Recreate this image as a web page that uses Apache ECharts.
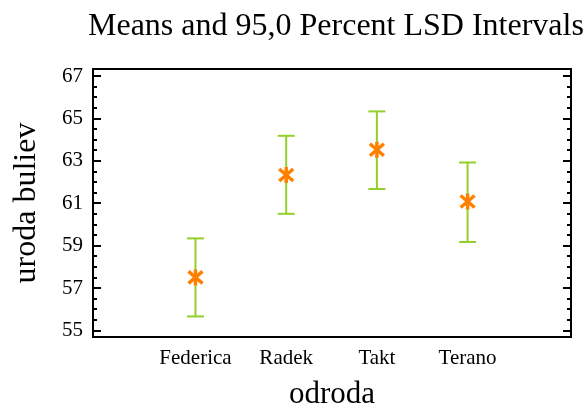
<!DOCTYPE html>
<html>
<head>
<meta charset="utf-8">
<script src="https://cdn.jsdelivr.net/npm/echarts@6/dist/echarts.min.js"></script>
<style>html,body{margin:0;padding:0;background:#fff}#c{width:586px;height:408px}</style>
</head>
<body>
<div id="c"></div>
<script>
const categories = ['Federica', 'Radek', 'Takt', 'Terano'];
const means = [57.5, 62.33, 63.52, 61.08];
const lower = [55.66, 60.5, 61.67, 59.17];
const upper = [59.34, 64.18, 65.33, 62.92];
const yMajorTicks = [55, 57, 59, 61, 63, 65, 67];
const yMinorTicks = [55.5, 56, 56.5, 57.5, 58, 58.5, 59.5, 60, 60.5, 61.5, 62, 62.5, 63.5, 64, 64.5, 65.5, 66, 66.5];
const titleText = 'Means and 95,0 Percent LSD Intervals';
const xName = 'odroda';
const yName = 'uroda buliev';

const FONT = '"Liberation Serif", "Times New Roman", serif';
const Y_MIN = 54.69, Y_MAX = 67.33;

function yAxisDef(pos, values, len, showLabel) {
  return {
    type: 'value', position: pos, min: Y_MIN, max: Y_MAX,
    axisLine: { show: false, onZero: false },
    splitLine: { show: false },
    axisTick: { show: true, inside: true, length: len, customValues: values, lineStyle: { color: '#000', width: 2 } },
    axisLabel: { show: showLabel, customValues: values, color: '#000', fontFamily: FONT, fontSize: 21, margin: 10 },
    name: showLabel ? yName : '',
    nameLocation: 'middle', nameGap: 50,
    nameTextStyle: { color: '#000', fontFamily: FONT, fontSize: 32 }
  };
}

const chart = echarts.init(document.getElementById('c'), null, { renderer: 'canvas' });
chart.setOption({
  animation: false,
  backgroundColor: '#fff',
  title: {
    text: titleText, left: 83, top: 6,
    textStyle: { color: '#000', fontFamily: FONT, fontSize: 32, fontWeight: 'normal' }
  },
  grid: { left: 93, right: 15, top: 69, bottom: 71, show: true, borderColor: '#000', borderWidth: 2,
          backgroundColor: 'transparent', outerBoundsMode: 'none', containLabel: false },
  xAxis: {
    type: 'value', min: -1.13, max: 4.14,
    axisLine: { show: false, onZero: false }, splitLine: { show: false }, axisTick: { show: false },
    axisLabel: {
      customValues: categories.map((c, i) => i),
      formatter: v => categories[Math.round(v)] || '',
      color: '#000', fontFamily: FONT, fontSize: 21, margin: 11
    },
    name: xName, nameLocation: 'middle', nameGap: 42,
    nameTextStyle: { color: '#000', fontFamily: FONT, fontSize: 31 }
  },
  yAxis: [
    yAxisDef('left', yMajorTicks, 8, true),
    yAxisDef('left', yMinorTicks, 4, false),
    yAxisDef('right', yMajorTicks, 8, false),
    yAxisDef('right', yMinorTicks, 4, false)
  ],
  series: [{
    type: 'custom',
    data: categories.map((c, i) => [i, means[i], lower[i], upper[i]]),
    renderItem: function (params, api) {
      const x = api.value(0);
      const pm = api.coord([x, api.value(1)]);
      const pl = api.coord([x, api.value(2)]);
      const pu = api.coord([x, api.value(3)]);
      const green = { stroke: '#94cf2a', lineWidth: 2 };
      const orange = { stroke: '#ff8000', lineWidth: 3.5 };
      const cw = 8.5, mw = 7, mh = 8;
      return {
        type: 'group',
        children: [
          { type: 'line', shape: { x1: pl[0], y1: pl[1], x2: pu[0], y2: pu[1] }, style: green },
          { type: 'line', shape: { x1: pl[0] - cw, y1: pl[1], x2: pl[0] + cw, y2: pl[1] }, style: green },
          { type: 'line', shape: { x1: pu[0] - cw, y1: pu[1], x2: pu[0] + cw, y2: pu[1] }, style: green },
          { type: 'line', shape: { x1: pm[0] - mw, y1: pm[1] - mh * 0.75, x2: pm[0] + mw, y2: pm[1] + mh * 0.75 }, style: orange },
          { type: 'line', shape: { x1: pm[0] - mw, y1: pm[1] + mh * 0.75, x2: pm[0] + mw, y2: pm[1] - mh * 0.75 }, style: orange },
          { type: 'line', shape: { x1: pm[0], y1: pm[1] - mh, x2: pm[0], y2: pm[1] + mh }, style: orange }
        ]
      };
    }
  }]
});
</script>
</body>
</html>
